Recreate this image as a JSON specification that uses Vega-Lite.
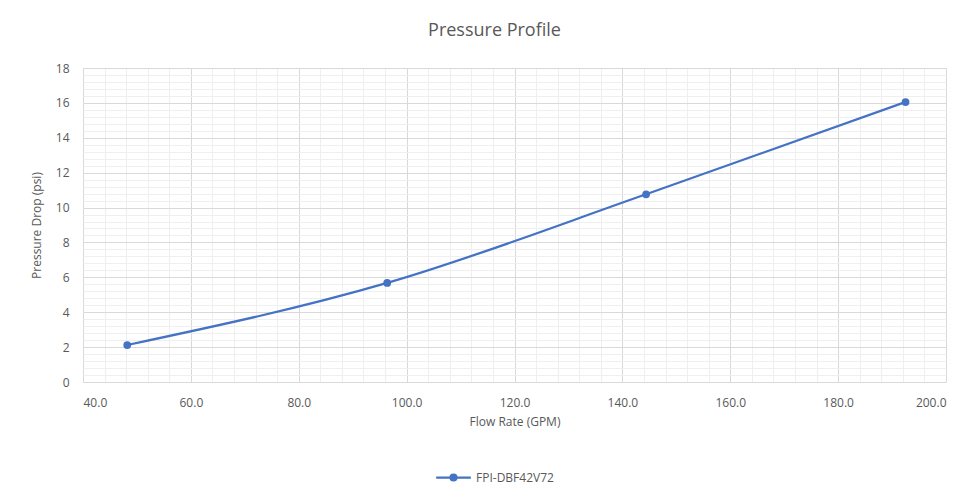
{
  "$schema": "https://vega.github.io/schema/vega-lite/v6.json",
  "autosize": {"type": "none"},
  "width": 863,
  "height": 314,
  "padding": {"left": 83, "top": 68, "right": 21, "bottom": 107},
  "background": "white",
  "title": {"text": "Pressure Profile", "fontSize": 18, "font": "Open Sans", "fontWeight": "normal", "color": "#595959", "offset": 22, "dx": -20, "anchor": "middle"},
  "config": {
    "view": {"stroke": "#d9d9d9"},
    "axis": {"labelFont": "Open Sans", "titleFont": "Open Sans", "labelColor": "#595959", "titleColor": "#595959", "labelFontSize": 12, "titleFontSize": 12, "titleFontWeight": "normal", "ticks": false, "domain": false}
  },
  "data": {"values": [
    {"flow": 48.2, "drop": 2.12, "series": "FPI-DBF42V72"},
    {"flow": 96.4, "drop": 5.68, "series": "FPI-DBF42V72"},
    {"flow": 144.4, "drop": 10.76, "series": "FPI-DBF42V72"},
    {"flow": 192.5, "drop": 16.05, "series": "FPI-DBF42V72"}
  ]},
  "resolve": {"axis": {"x": "independent", "y": "independent"}},
  "layer": [
    {
      "mark": {"type": "line", "interpolate": "monotone", "strokeWidth": 2.25},
      "encoding": {
        "x": {"field": "flow", "type": "quantitative", "scale": {"domain": [40, 200], "nice": false},
          "axis": {"orient": "bottom", "values": [40,44,48,52,56,60,64,68,72,76,80,84,88,92,96,100,104,108,112,116,120,124,128,132,136,140,144,148,152,156,160,164,168,172,176,180,184,188,192,196,200], "labels": false, "ticks": false, "tickSize": 0, "labelPadding": 0, "domain": false, "title": null, "grid": true, "gridColor": "#efefef", "gridWidth": 1}},
        "y": {"field": "drop", "type": "quantitative", "scale": {"domain": [0, 18], "nice": false},
          "axis": {"orient": "left", "values": [0,0.4,0.8,1.2,1.6,2,2.4,2.8,3.2,3.6,4,4.4,4.8,5.2,5.6,6,6.4,6.8,7.2,7.6,8,8.4,8.8,9.2,9.6,10,10.4,10.8,11.2,11.6,12,12.4,12.8,13.2,13.6,14,14.4,14.8,15.2,15.6,16,16.4,16.8,17.2,17.6,18], "labels": false, "ticks": false, "tickSize": 0, "labelPadding": 0, "domain": false, "title": null, "grid": true, "gridColor": "#efefef", "gridWidth": 1}},
        "color": {"field": "series", "type": "nominal", "scale": {"range": ["#4472C4"]},
          "legend": {"title": null, "orient": "none", "legendX": 352, "legendY": 391, "direction": "horizontal", "labelFont": "Open Sans", "labelFontSize": 12, "labelColor": "#595959",
            "symbolType": "M-1,0H1M-0.17,0A0.17,0.17 0 1,1 0.17,0A0.17,0.17 0 1,1 -0.17,0Z", "symbolSize": 1200, "symbolStrokeWidth": 2.25, "symbolFillColor": "#4472C4", "symbolStrokeColor": "#4472C4"}}
      }
    },
    {
      "mark": {"type": "point", "filled": true, "size": 60, "opacity": 1},
      "encoding": {
        "x": {"field": "flow", "type": "quantitative", "scale": {"domain": [40, 200], "nice": false},
          "axis": {"orient": "bottom", "values": [40,60,80,100,120,140,160,180,200], "format": ".1f", "labelPadding": 15, "ticks": false, "domain": false, "title": "Flow Rate (GPM)", "titlePadding": 8, "grid": true, "gridColor": "#d9d9d9"}},
        "y": {"field": "drop", "type": "quantitative", "scale": {"domain": [0, 18], "nice": false},
          "axis": {"orient": "left", "values": [0,2,4,6,8,10,12,14,16,18], "labelPadding": 14, "ticks": false, "domain": false, "title": "Pressure Drop (psi)", "titlePadding": 12, "grid": true, "gridColor": "#d9d9d9"}},
        "color": {"field": "series", "type": "nominal", "scale": {"range": ["#4472C4"]},
          "legend": {"title": null, "orient": "none", "legendX": 352, "legendY": 391, "direction": "horizontal", "labelFont": "Open Sans", "labelFontSize": 12, "labelColor": "#595959",
            "symbolType": "M-1,0H1M-0.17,0A0.17,0.17 0 1,1 0.17,0A0.17,0.17 0 1,1 -0.17,0Z", "symbolSize": 1200, "symbolStrokeWidth": 2.25, "symbolFillColor": "#4472C4", "symbolStrokeColor": "#4472C4"}}
      }
    }
  ]
}
